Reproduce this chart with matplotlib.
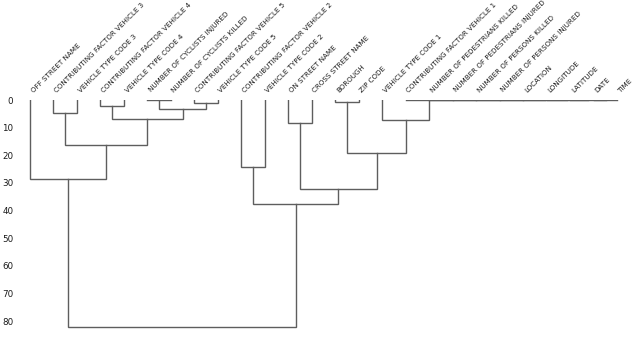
import matplotlib
matplotlib.use("Agg")
import matplotlib.pyplot as plt
import numpy as np

# Leaf labels in display order
leaves = [
    "OFF STREET NAME", "CONTRIBUTING FACTOR VEHICLE 3", "VEHICLE TYPE CODE 3",
    "CONTRIBUTING FACTOR VEHICLE 4", "VEHICLE TYPE CODE 4",
    "NUMBER OF CYCLISTS INJURED", "NUMBER OF CYCLISTS KILLED",
    "CONTRIBUTING FACTOR VEHICLE 5", "VEHICLE TYPE CODE 5",
    "CONTRIBUTING FACTOR VEHICLE 2", "VEHICLE TYPE CODE 2",
    "ON STREET NAME", "CROSS STREET NAME", "BOROUGH", "ZIP CODE",
    "VEHICLE TYPE CODE 1", "CONTRIBUTING FACTOR VEHICLE 1",
    "NUMBER OF PEDESTRIANS KILLED", "NUMBER OF PEDESTRIANS INJURED",
    "NUMBER OF PERSONS KILLED", "NUMBER OF PERSONS INJURED",
    "LOCATION", "LONGITUDE", "LATITUDE", "DATE", "TIME",
]

# Linkage (scipy style: ids < n are leaves, id n+k is merge k)
merge_left = [24, 23, 22, 21, 20, 19, 18, 17, 16, 5, 13, 7, 3, 35, 1, 38, 15, 11, 40, 36, 9, 0, 43, 46, 47]
merge_right = [25, 26, 27, 28, 29, 30, 31, 32, 33, 6, 14, 8, 4, 37, 2, 39, 34, 12, 41, 42, 10, 44, 45, 48, 49]
merge_height = [0, 0, 0, 0, 0, 0, 0, 0, 0, 0, 0.6, 1.2, 2.1, 3.4, 4.7, 7.0, 7.2, 8.3, 16.3, 19.3, 24.1, 28.5, 32.2, 37.6, 82.0]

n = len(leaves)
line_color = "#5e5e5e"

fig = plt.figure(figsize=(6.4, 3.44), dpi=100)
ax = fig.add_axes([0.0285, 0.0174, 0.9545, 0.6918])

# positions of clusters
xpos = {i: 5 + 10 * i for i in range(n)}
ypos = {i: 0.0 for i in range(n)}
for k, (a, b, h) in enumerate(zip(merge_left, merge_right, merge_height)):
    xa, xb = xpos[a], xpos[b]
    ya, yb = ypos[a], ypos[b]
    ax.plot([xa, xa, xb, xb], [ya, h, h, yb], color=line_color, lw=1.0,
            solid_joinstyle="miter", clip_on=True)
    xpos[n + k] = (xa + xb) / 2
    ypos[n + k] = h

mh = max(merge_height)
ax.set_xlim(0, n * 10)
ax.set_ylim(mh * 1.05, 0)
ax.set_xticks([5 + 10 * i for i in range(n)])
ax.xaxis.tick_top()
ax.set_xticklabels(leaves, rotation=45, ha="left", fontsize=5.1, color="#1a1a1a")
ax.tick_params(axis="x", length=0, pad=4.8)
ax.set_yticks([0, 10, 20, 30, 40, 50, 60, 70, 80])
ax.tick_params(axis="y", length=0, pad=3.5, labelsize=6.3, labelcolor="#1a1a1a")
for s in ax.spines.values():
    s.set_visible(False)
ax.patch.set_visible(False)

fig.savefig("out.png", dpi=100)
